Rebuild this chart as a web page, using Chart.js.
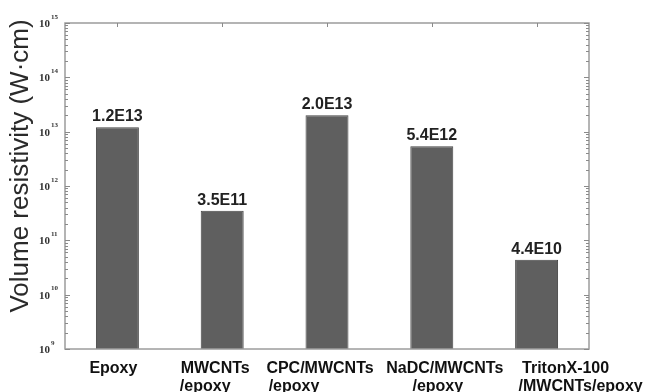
<!DOCTYPE html>
<html>
<head>
<meta charset="utf-8">
<script src="https://cdn.jsdelivr.net/npm/chart.js@4/dist/chart.umd.min.js"></script>
<style>
  html, body { margin: 0; padding: 0; background: #fff; }
  canvas { display: block; }
</style>
</head>
<body>
<canvas id="chart" width="647" height="392"></canvas>
<script>
// Samples and their measured volume resistivity
const categories = [
  ['Epoxy'],
  ['MWCNTs', '/epoxy'],
  ['CPC/MWCNTs', '/epoxy'],
  ['NaDC/MWCNTs', '/epoxy'],
  ['TritonX-100', '/MWCNTs/epoxy']
];
const resistivity = [1.2e13, 3.5e11, 2.0e13, 5.4e12, 4.4e10];

// Log axis range (decades)
const yMinExp = 9;
const yMaxExp = 15;
const yTitle = 'Volume resistivity (W\u00B7cm)';

// horizontal nudge (px) of each category label line from its tick, so long names don't collide
const labelNudge = [[-4], [-7, -17], [-7, -33], [13, 6], [29, 44]];

const FRAME = '#9c9c9c';
const SANS = '"Liberation Sans", Arial, sans-serif';
const SERIF = '"Liberation Serif", "DejaVu Serif", serif';

function sci(v) {
  const e = Math.floor(Math.log10(v) + 1e-9);
  const m = v / Math.pow(10, e);
  return m.toFixed(1) + 'E' + e;
}

const decorations = {
  id: 'decorations',
  afterDatasetsDraw(chart) {
    const { ctx, chartArea: a, scales: { x, y } } = chart;
    ctx.save();

    // frame
    ctx.strokeStyle = FRAME;
    ctx.lineWidth = 1.5;
    ctx.strokeRect(a.left, a.top, a.right - a.left, a.bottom - a.top);

    // inward log ticks on left and right edges
    ctx.lineWidth = 1;
    ctx.strokeStyle = '#8a8a8a';
    ctx.beginPath();
    for (let e = yMinExp; e <= yMaxExp; e++) {
      const maxK = e === yMaxExp ? 1 : 9;
      for (let k = 1; k <= maxK; k++) {
        const py = Math.round(y.getPixelForValue(k * Math.pow(10, e))) + 0.5;
        const len = k === 1 ? 5 : 3;
        ctx.moveTo(a.left, py); ctx.lineTo(a.left + len, py);
        ctx.moveTo(a.right, py); ctx.lineTo(a.right - len, py);
      }
    }
    // category ticks on top edge
    categories.forEach((_, i) => {
      const px = Math.round(x.getPixelForValue(i)) + 0.5;
      ctx.moveTo(px, a.top); ctx.lineTo(px, a.top + 4);
    });
    ctx.stroke();

    // y tick labels: 10 with superscript exponent
    ctx.fillStyle = '#333';
    for (let e = yMinExp; e <= yMaxExp; e++) {
      const py = y.getPixelForValue(Math.pow(10, e));
      ctx.font = 'bold 11px ' + SERIF;
      ctx.textAlign = 'right';
      ctx.textBaseline = 'middle';
      ctx.fillText('10', a.left - 15, py + 1);
      ctx.font = 'bold 7px ' + SERIF;
      ctx.textAlign = 'left';
      ctx.fillText(String(e), a.left - 14, py - 6);
    }

    // y axis title
    ctx.save();
    ctx.translate(21, 166);
    ctx.rotate(-Math.PI / 2);
    ctx.font = '26px ' + SANS;
    ctx.fillStyle = '#2a2a2a';
    ctx.textAlign = 'center';
    ctx.textBaseline = 'middle';
    ctx.fillText(yTitle, 0, 0);
    ctx.restore();

    // category labels under the axis
    ctx.font = 'bold 16px ' + SANS;
    ctx.fillStyle = '#111';
    ctx.textAlign = 'center';
    ctx.textBaseline = 'alphabetic';
    categories.forEach((lines, i) => {
      const px = x.getPixelForValue(i);
      lines.forEach((line, j) => {
        ctx.fillText(line, px + labelNudge[i][j], a.bottom + 24 + j * 18);
      });
    });

    // value labels above bars
    const meta = chart.getDatasetMeta(0);
    ctx.fillStyle = '#222';
    meta.data.forEach((bar, i) => {
      ctx.fillText(sci(resistivity[i]), bar.x, bar.y - 6);
    });

    ctx.restore();
  }
};

new Chart(document.getElementById('chart'), {
  type: 'bar',
  data: {
    labels: categories,
    datasets: [{
      data: resistivity,
      backgroundColor: '#5f5f5f',
      borderColor: '#444',
      borderWidth: 1,
      barPercentage: 0.41,
      categoryPercentage: 1
    }]
  },
  options: {
    responsive: false,
    animation: false,
    layout: { padding: { top: 23, right: 58, left: 0, bottom: 0 } },
    plugins: { legend: { display: false }, tooltip: { enabled: false } },
    scales: {
      x: {
        grid: { display: false },
        border: { display: false },
        ticks: { display: false },
        afterFit(scale) { scale.height = 43; }
      },
      y: {
        type: 'logarithmic',
        min: Math.pow(10, yMinExp),
        max: Math.pow(10, yMaxExp),
        grid: { display: false },
        border: { display: false },
        ticks: { display: false },
        afterFit(scale) { scale.width = 65; }
      }
    }
  },
  plugins: [decorations]
});
</script>
</body>
</html>
